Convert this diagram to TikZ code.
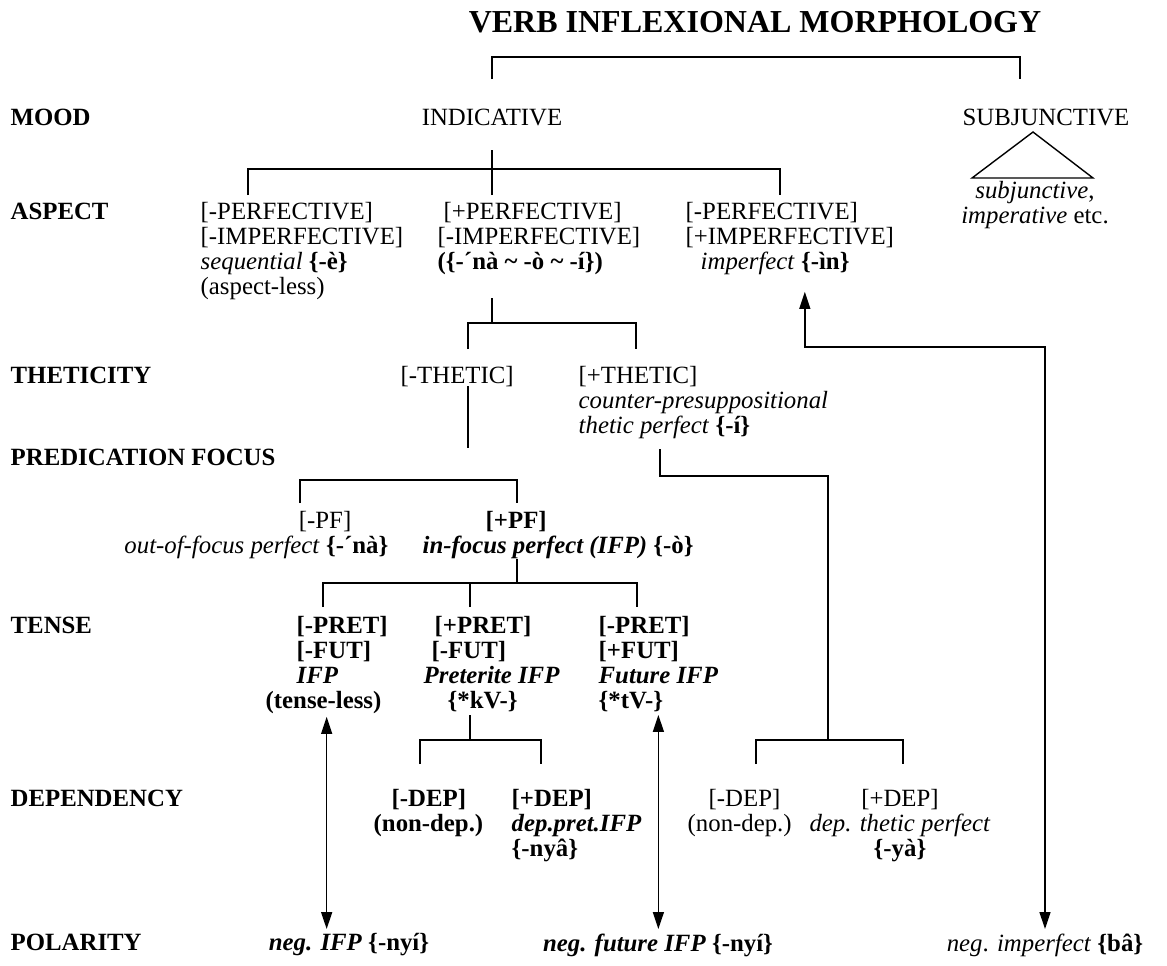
\documentclass[tikz,border=0pt]{standalone}
\usepackage{fontspec}
\setmainfont{Liberation Serif}
\usetikzlibrary{arrows.meta}

\begin{document}
\begin{tikzpicture}[x=0.5pt, y=-0.5pt, line width=0.7pt,
    every node/.style={inner sep=0pt, font=\fontsize{12.4}{12.5}\selectfont},
    row/.style={anchor=north west, font=\fontsize{12.4}{12.5}\selectfont\bfseries},
    strong/.style={font=\fontsize{12.4}{12.5}\selectfont\bfseries},
    feat/.style={anchor=north west, align=left},
    featc/.style={anchor=north, align=center},
    dbl/.style={{Triangle[width=5.5pt,length=8.5pt]}-{Triangle[width=5.5pt,length=8.5pt]}}]
    \useasboundingbox (0,0) rectangle (1167,965);

    \node[font=\fontsize{16}{19}\selectfont\bfseries] (title) at (755,22) {VERB INFLEXIONAL MORPHOLOGY};

    % mood
    \node[row] (mood) at (10,108) {MOOD};
    \node[featc] (indic) at (492,108) {INDICATIVE};
    \node[featc] (subj) at (1046,108) {SUBJUNCTIVE};
    \node[featc] (subjx) at (1035,181) {\textit{subjunctive},\\\textit{imperative} etc.};

    % aspect
    \node[row] (aspect) at (10,202) {ASPECT};
    \node[feat] (perf1) at (200,202) {[-PERFECTIVE]\\{}[-IMPERFECTIVE]\\\textit{sequential} \textbf{\{-è\}}\\(aspect-less)};
    \node[feat] (perf2) at (437,202) {\hspace*{3pt}[+PERFECTIVE]\\{}[-IMPERFECTIVE]\\\textbf{(\{-´nà \textasciitilde{} -ò \textasciitilde{} -í\})}};
    \node[feat] (perf3) at (685,202) {[-PERFECTIVE]\\{}[+IMPERFECTIVE]\\\hspace*{7.5pt}\textit{imperfect} \textbf{\{-ìn\}}};

    % theticity
    \node[row] (thetic) at (10,366) {THETICITY};
    \node[feat] (thneg) at (400,366) {[-THETIC]};
    \node[feat] (thpos) at (578,366) {[+THETIC]\\\textit{counter-presuppositional}\\\textit{thetic perfect} \textbf{\{-í\}}};

    % predication focus
    \node[row] (pfoc) at (10,448) {PREDICATION FOCUS};
    \node[anchor=north east, align=right] (pfneg) at (389,511) {[-PF]\hspace*{18.5pt}\\\textit{out-of-focus perfect} \textbf{\{-´nà\}}};
    \node[feat] (pfpos) at (422,511) {\hspace*{31.5pt}\textbf{[+PF]}\\\textbf{\textit{in-focus perfect (IFP)} \{-ò\}}};

    % tense
    \node[row] (tense) at (10,616) {TENSE};
    \node[feat, strong] (tn1) at (265,616) {\hspace*{15.5pt}[-PRET]\\\hspace*{15.5pt}[-FUT]\\\hspace*{15.5pt}\textit{IFP}\\(tense-less)};
    \node[feat, strong] (tn2) at (423,616) {\hspace*{5.5pt}[+PRET]\\\hspace*{4pt}[-FUT]\\\textit{Preterite IFP}\\\hspace*{12pt}\{*kV-\}};
    \node[feat, strong] (tn3) at (598,616) {[-PRET]\\{}[+FUT]\\\textit{Future IFP}\\\{*tV-\}};

    % dependency
    \node[row] (dep) at (10,789) {DEPENDENCY};
    \node[feat, strong] (dp1) at (373,789) {\hspace*{9pt}[-DEP]\\(non-dep.)};
    \node[feat, strong] (dp2) at (511,789) {[+DEP]\\\textit{dep.pret.IFP}\\\{-nyâ\}};
    \node[feat] (dp3) at (687,789) {\hspace*{10.5pt}[-DEP]\\(non-dep.)};
    \node[featc] (dp4) at (900,789) {[+DEP]\\\textit{dep. thetic perfect}\\\textbf{\{-yà\}}};

    % polarity
    \node[row] (pol) at (10,933) {POLARITY};
    \node[featc, strong] (ng1) at (349,933) {\textit{neg. IFP} \{-nyí\}};
    \node[featc, strong] (ng2) at (658,933) {\textit{neg. future IFP} \{-nyí\}};
    \node[featc] (ng3) at (1045,933) {\textit{neg}. \textit{imperfect} \textbf{\{bâ\}}};

    % tree lines
    \coordinate (md-l) at (492,79);
    \coordinate (md-r) at (1020,79);
    \draw (md-l) -- ++(0,-22) -| (md-r);
    \draw (1033,132) -- (972,178) -- (1093,178) -- cycle;

    \coordinate (as-l) at (248,195);
    \coordinate (as-m) at (492,195);
    \coordinate (as-r) at (780,195);
    \draw (as-l) -- ++(0,-26) -| (as-r);
    \draw (as-m) -- ++(0,-45);

    \coordinate (th-top) at (492,298);
    \coordinate (th-l) at (468,349);
    \coordinate (th-r) at (636,349);
    \draw (th-top) -- ++(0,25);
    \draw (th-l) -- ++(0,-26) -| (th-r);

    \coordinate (pf-top) at (468,386);
    \coordinate (pf-l) at (300,503);
    \coordinate (pf-r) at (517,503);
    \draw (pf-top) -- ++(0,62);
    \draw (pf-l) -- ++(0,-23) -| (pf-r);

    \coordinate (tn-top) at (517,559);
    \coordinate (tn-l) at (323,607);
    \coordinate (tn-m) at (470,607);
    \coordinate (tn-r) at (637,607);
    \draw (tn-top) -- ++(0,24);
    \draw (tn-l) -- ++(0,-24) -| (tn-r);
    \draw (tn-m) -- ++(0,-24);

    \coordinate (dk-top) at (470,715);
    \coordinate (dk-l) at (420,764);
    \coordinate (dk-r) at (541,764);
    \draw (dk-top) -- ++(0,25);
    \draw (dk-l) -- ++(0,-24) -| (dk-r);

    \coordinate (tp-top) at (660,449);
    \coordinate (tp-m) at (828,740);
    \coordinate (tp-l) at (756,764);
    \coordinate (tp-r) at (903,764);
    \draw (tp-top) -- ++(0,27) -| (tp-m);
    \draw (tp-l) -- ++(0,-24) -| (tp-r);

    % polarity links
    \draw[dbl] ([yshift=-1pt]tn1.south) -- ([yshift=2pt]tn1.south |- ng1.north);
    \draw[dbl] ([yshift=-1pt]tn3.south) -- ([yshift=2pt]tn3.south |- ng2.north);
    \draw[dbl] ([xshift=7.5pt,yshift=-8pt]perf3.south) -- ++(0,55) -| ([yshift=2pt]ng3.north);
\end{tikzpicture}
\end{document}
